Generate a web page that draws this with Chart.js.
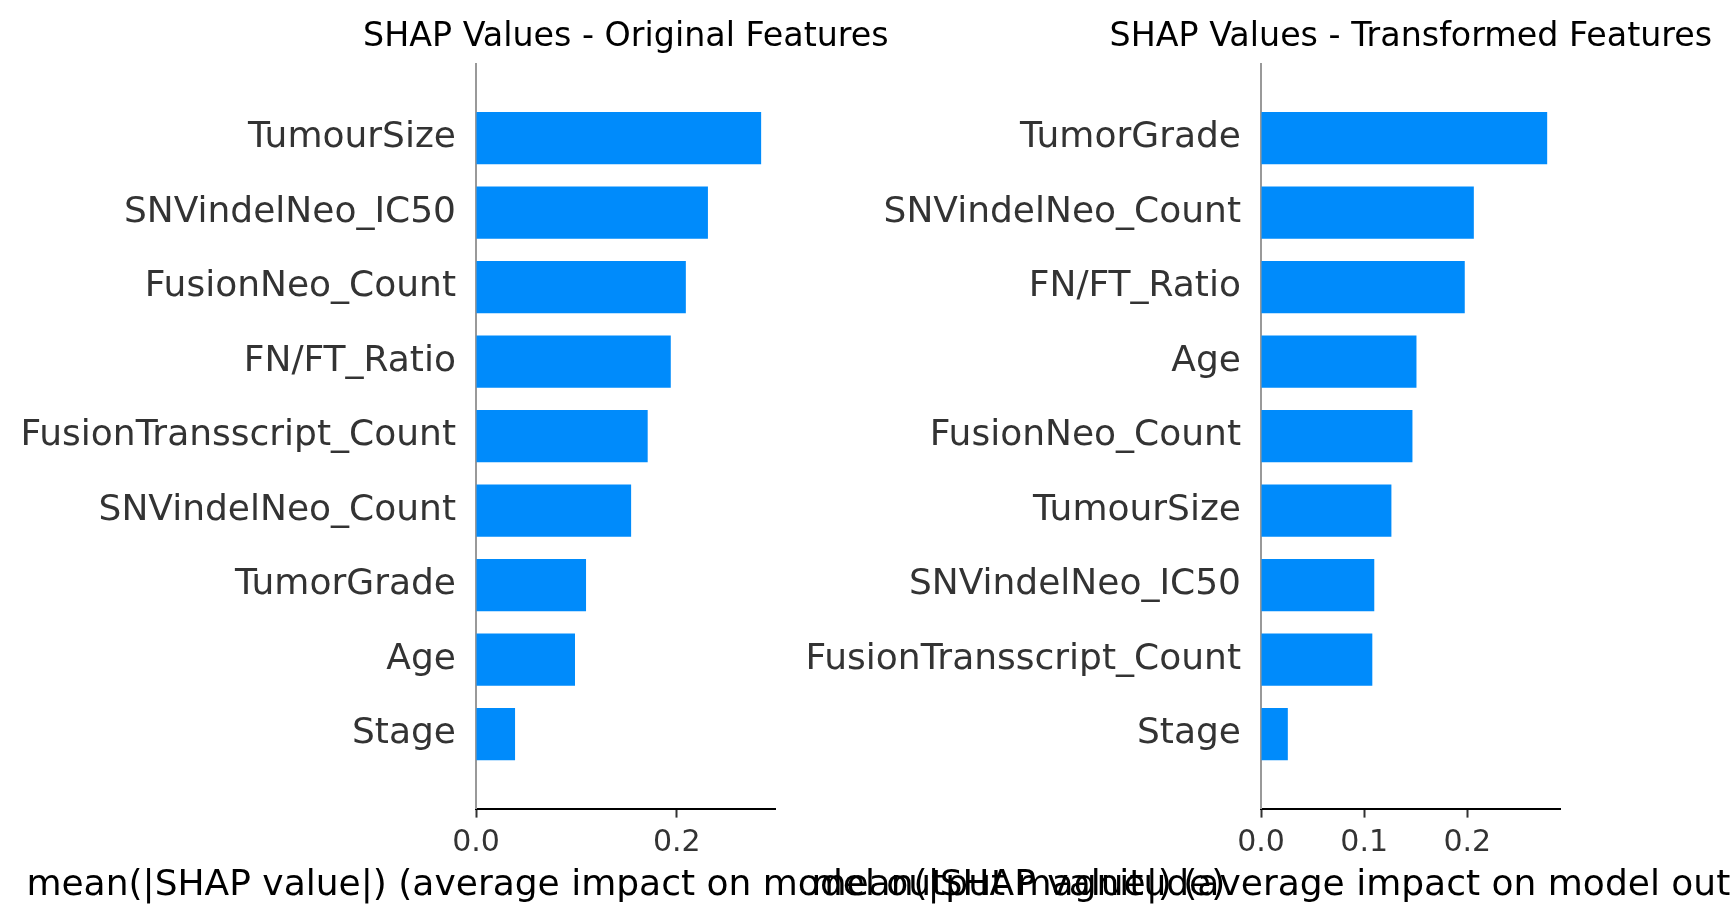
<!DOCTYPE html>
<html>
<head>
<meta charset="utf-8">
<script src="https://cdn.jsdelivr.net/npm/chart.js@4.4.1/dist/chart.umd.min.js"></script>
<style>
  html, body { margin: 0; padding: 0; background: #fff; }
  #wrap { position: relative; width: 1732px; height: 923px; overflow: hidden; }
  #wrap canvas { position: absolute; left: 0; top: 0; }
</style>
</head>
<body>
<div id="wrap">
  <canvas id="origChart" width="1732" height="923"></canvas>
  <canvas id="transChart" width="1732" height="923"></canvas>
</div>
<script>
// values
const origFeatures = ['TumourSize', 'SNVindelNeo_IC50', 'FusionNeo_Count', 'FN/FT_Ratio',
    'FusionTransscript_Count', 'SNVindelNeo_Count', 'TumorGrade', 'Age', 'Stage'];
const origShap = [0.284, 0.231, 0.209, 0.194, 0.171, 0.1545, 0.1096, 0.0986, 0.0389];

const transFeatures = ['TumorGrade', 'SNVindelNeo_Count', 'FN/FT_Ratio', 'Age', 'FusionNeo_Count',
    'TumourSize', 'SNVindelNeo_IC50', 'FusionTransscript_Count', 'Stage'];
const transShap = [0.2774, 0.2063, 0.1975, 0.1507, 0.1468, 0.1264, 0.1098, 0.1079, 0.026];

const origTicks = [0, 0.2];
const transTicks = [0, 0.1, 0.2];
const xLabel = 'mean(|SHAP value|) (average impact on model output magnitude)';

const FONT = '"DejaVu Sans", sans-serif';
const SHAP_BLUE = '#008bfb';

// titles / x labels are drawn here so they can spill past the plot width like matplotlib does
const panelText = {
    id: 'panelText',
    afterDraw(chart, args, opts) {
        const {ctx, chartArea} = chart;
        const cx = (chartArea.left + chartArea.right) / 2;
        ctx.save();
        ctx.textAlign = 'center';
        ctx.textBaseline = 'alphabetic';
        ctx.fillStyle = '#000';
        ctx.font = '33.3px ' + FONT;
        ctx.fillText(opts.title, cx, 46);
        ctx.font = '36px ' + FONT;
        ctx.fillText(opts.xlabel, cx, 895);
        ctx.restore();
    }
};

function makeChart(id, features, values, ticks, xMax, title, padLeft, padRight) {
    const ctx = document.getElementById(id);
    // blank slot above and below so the bars sit like matplotlib's ylim
    const labels = ['', ...features, ''];
    const data = [null, ...values, null];
    return new Chart(ctx, {
        type: 'bar',
        data: {
            labels: labels,
            datasets: [{
                data: data,
                backgroundColor: SHAP_BLUE,
                borderWidth: 0,
                barPercentage: 0.7,
                categoryPercentage: 1
            }]
        },
        plugins: [panelText],
        options: {
            indexAxis: 'y',
            responsive: false,
            animation: false,
            layout: {padding: {left: padLeft, right: padRight, top: 63.6, bottom: 0}},
            scales: {
                x: {
                    type: 'linear',
                    min: 0,
                    max: xMax,
                    afterFit: (s) => { s.height = 114.4; },
                    afterBuildTicks: (s) => { s.ticks = ticks.map((v) => ({value: v})); },
                    grid: {display: true, drawOnChartArea: false, drawTicks: true,
                        tickLength: 9, tickWidth: 2, tickColor: '#333'},
                    border: {display: true, color: '#000', width: 2},
                    ticks: {
                        color: '#333',
                        padding: 7.5,
                        font: {family: FONT, size: 30},
                        callback: (v) => Number(v).toFixed(1)
                    }
                },
                y: {
                    type: 'category',
                    offset: false,
                    afterFit: (s) => { s.width = 476; },
                    grid: {display: false, drawTicks: false},
                    border: {display: true, color: '#999', width: 2},
                    ticks: {
                        autoSkip: false,
                        color: '#333',
                        padding: 20,
                        font: {family: FONT, size: 36}
                    }
                }
            },
            plugins: {
                legend: {display: false},
                tooltip: {enabled: false},
                title: {display: false},
                panelText: {title: title, xlabel: xLabel}
            }
        }
    });
}

function main() {
    makeChart('origChart', origFeatures, origShap, origTicks, 0.2985,
        'SHAP Values - Original Features', 0, 956.3);
    makeChart('transChart', transFeatures, transShap, transTicks, 0.2905,
        'SHAP Values - Transformed Features', 785, 171.3);
}

main()
</script>
</body>
</html>
